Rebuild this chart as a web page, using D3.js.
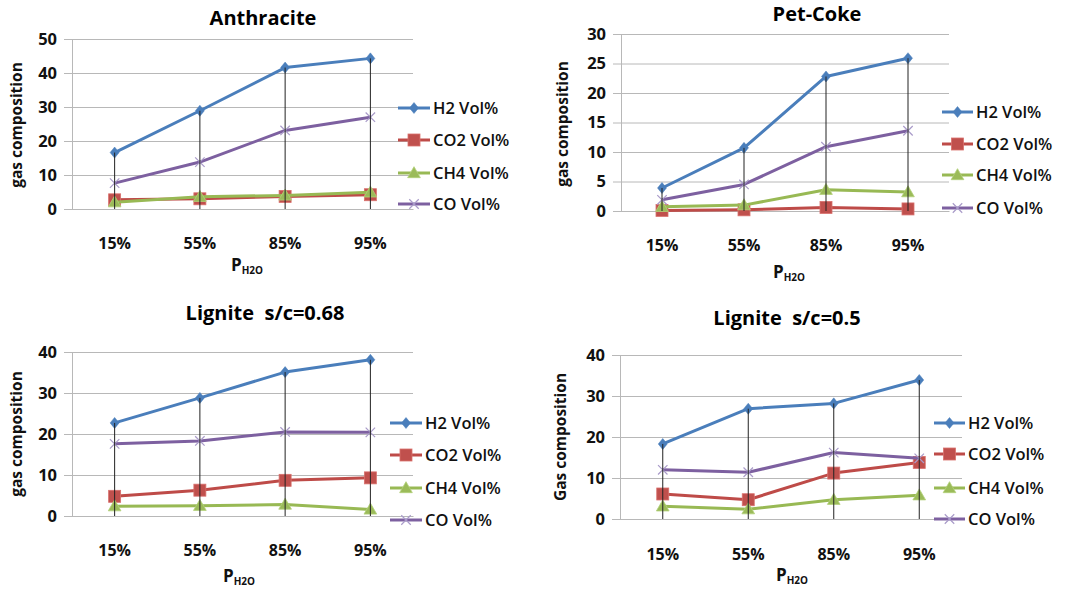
<!DOCTYPE html>
<html>
<head>
<meta charset="utf-8">
<script src="https://cdn.jsdelivr.net/npm/d3@7"></script>
<style>
  html, body { margin: 0; padding: 0; background: #fff; }
  svg { display: block; font-family: "Open Sans", "Noto Sans", sans-serif; }
</style>
</head>
<body>
<svg id="chart" width="1071" height="589"></svg>
<script>
// ---------- data ----------
const categories = ["15%", "55%", "85%", "95%"];
const seriesNames = ["H2 Vol%", "CO2 Vol%", "CH4 Vol%", "CO Vol%"];

const anthraciteH2  = [16.6, 28.9, 41.6, 44.3];
const anthraciteCO2 = [2.7, 3.0, 3.7, 4.2];
const anthraciteCH4 = [2.0, 3.6, 4.0, 4.9];
const anthraciteCO  = [7.6, 13.8, 23.1, 27.0];

const petcokeH2  = [3.9, 10.7, 22.8, 25.9];
const petcokeCO2 = [0.1, 0.2, 0.6, 0.35];
const petcokeCH4 = [0.7, 1.0, 3.6, 3.2];
const petcokeCO  = [1.9, 4.5, 10.9, 13.6];

const lignite068H2  = [22.7, 28.8, 35.1, 38.1];
const lignite068CO2 = [4.8, 6.3, 8.7, 9.3];
const lignite068CH4 = [2.4, 2.5, 2.8, 1.6];
const lignite068CO  = [17.6, 18.3, 20.5, 20.4];

const lignite05H2  = [18.3, 26.9, 28.2, 33.9];
const lignite05CO2 = [6.1, 4.7, 11.2, 13.8];
const lignite05CH4 = [3.1, 2.4, 4.7, 5.8];
const lignite05CO  = [12.0, 11.4, 16.2, 14.8];

const titles = ["Anthracite", "Pet-Coke", "Lignite  s/c=0.68", "Lignite  s/c=0.5"];
const yLabels = ["gas composition", "gas composition", "gas composition", "Gas composition"];
const yMaxes = [50, 30, 40, 40];
const yTickSteps = [10, 5, 10, 10];

// ---------- styles ----------
const colors = ["#4A7EBB", "#BE4B48", "#98B954", "#7D60A0"];
const markerFill = ["#4A7EBB", "#C0504D", "#9BBB59", "#A99BC9"];
const gridColor = "#b8b8b8";

// ---------- layout per panel ----------
const panels = [
  { data: [anthraciteH2, anthraciteCO2, anthraciteCH4, anthraciteCO],
    x0: 72, x1: 413, y0: 209, y1: 39,
    titleX: 263, titleY: 25, tickY: 250, xlabX: 231, xlabY: 271,
    ylabX: 17, ylabY: 125, legX: 398, legW: 32, legY: [108, 140, 173, 204] },
  { data: [petcokeH2, petcokeCO2, petcokeCH4, petcokeCO],
    x0: 621, x1: 949, y0: 211, y1: 34,
    titleX: 817, titleY: 21, tickY: 252, xlabX: 773, xlabY: 278,
    ylabX: 563, ylabY: 124, legX: 942, legW: 31, legY: [112, 144, 175, 208] },
  { data: [lignite068H2, lignite068CO2, lignite068CH4, lignite068CO],
    x0: 72, x1: 413, y0: 516, y1: 352,
    titleX: 265, titleY: 320, tickY: 557, xlabX: 223, xlabY: 582,
    ylabX: 17, ylabY: 434, legX: 390, legW: 32, legY: [423, 455, 488, 520] },
  { data: [lignite05H2, lignite05CO2, lignite05CH4, lignite05CO],
    x0: 620, x1: 962, y0: 519, y1: 355,
    titleX: 787, titleY: 325, tickY: 561, xlabX: 776, xlabY: 581,
    ylabX: 561, ylabY: 437, legX: 934, legW: 31, legY: [423, 454, 488, 519] }
];

const svg = d3.select("#chart");

function drawMarker(g, type, cx, cy, i) {
  if (type === 0) {
    g.append("path").attr("d", d3.symbol(d3.symbolDiamond2, 64)())
      .attr("transform", `translate(${cx},${cy}) scale(0.9,1.1)`)
      .attr("fill", markerFill[i]).attr("stroke", colors[i]).attr("stroke-width", 0.5);
  } else if (type === 1) {
    g.append("rect").attr("x", cx - 6).attr("y", cy - 6).attr("width", 12).attr("height", 12)
      .attr("fill", markerFill[i]).attr("stroke", "#D9706D").attr("stroke-width", 0.8);
  } else if (type === 2) {
    g.append("path").attr("d", d3.symbol(d3.symbolTriangle, 70)())
      .attr("transform", `translate(${cx},${cy + 1})`)
      .attr("fill", markerFill[i]).attr("stroke", "#B3D07A").attr("stroke-width", 0.8);
  } else {
    g.append("path").attr("d", d3.symbol(d3.symbolX, 60)())
      .attr("transform", `translate(${cx},${cy})`)
      .attr("fill", "none").attr("stroke", markerFill[i]).attr("stroke-width", 1.2);
  }
}

panels.forEach((p, pi) => {
  const g = svg.append("g");
  const x = d3.scaleBand().domain(categories).range([p.x0, p.x1]).padding(0);
  const y = d3.scaleLinear().domain([0, yMaxes[pi]]).range([p.y0, p.y1]);
  const cx = c => x(c) + x.bandwidth() / 2;
  const w = p.x1 - p.x0;

  // y axis with gridlines
  const yAxis = d3.axisLeft(y)
    .tickValues(d3.range(0, yMaxes[pi] + 0.001, yTickSteps[pi]))
    .tickSizeInner(-w).tickSizeOuter(0).tickPadding(15);
  const ya = g.append("g").attr("transform", `translate(${p.x0},0)`).call(yAxis);
  ya.select(".domain").attr("stroke", gridColor);
  ya.selectAll(".tick line").attr("x1", -8).attr("stroke", gridColor);
  ya.selectAll(".tick text").attr("font-size", 16.5).attr("font-weight", 700)
    .attr("fill", "#111").attr("font-family", "'Open Sans', sans-serif");

  // x axis
  const xAxis = d3.axisBottom(x).tickSize(0).tickPadding(p.tickY - p.y0 - 12);
  const xa = g.append("g").attr("transform", `translate(0,${p.y0})`).call(xAxis);
  xa.select(".domain").attr("stroke", gridColor);
  xa.selectAll(".tick text").attr("font-size", 16).attr("font-weight", 700)
    .attr("fill", "#111").attr("font-family", "'Open Sans', sans-serif");

  // series lines
  const line = d3.line().x((d, k) => cx(categories[k])).y(d => y(d));
  p.data.forEach((vals, i) => {
    g.append("path").datum(vals).attr("d", line)
      .attr("fill", "none").attr("stroke", colors[i]).attr("stroke-width", 3)
      .attr("stroke-linejoin", "round");
    vals.forEach((v, k) => drawMarker(g, i, cx(categories[k]), y(v), i));
  });

  // drop lines
  categories.forEach((c, k) => {
    const top = d3.max(p.data, s => s[k]);
    g.append("line").attr("x1", cx(c)).attr("x2", cx(c))
      .attr("y1", y(top)).attr("y2", y(0))
      .attr("stroke", "#222").attr("stroke-width", 1);
  });

  // title
  g.append("text").attr("x", p.titleX).attr("y", p.titleY)
    .attr("text-anchor", "middle").attr("font-size", 20).attr("font-weight", 700)
    .attr("fill", "#000").style("white-space", "pre").text(titles[pi]);

  // x label P_H2O
  const xl = g.append("text").attr("x", p.xlabX).attr("y", p.xlabY)
    .attr("font-weight", 700).attr("fill", "#111");
  xl.append("tspan").attr("font-size", 17).text("P");
  xl.append("tspan").attr("font-size", 10).attr("dy", 3).text("H2O");

  // y label
  g.append("text").attr("transform", `translate(${p.ylabX},${p.ylabY}) rotate(-90)`)
    .attr("text-anchor", "middle").attr("dy", "0.35em")
    .attr("font-size", 15.5).attr("font-weight", 700).attr("fill", "#111")
    .text(yLabels[pi]);

  // legend
  seriesNames.forEach((name, i) => {
    const ly = p.legY[i];
    g.append("line").attr("x1", p.legX).attr("x2", p.legX + p.legW)
      .attr("y1", ly).attr("y2", ly).attr("stroke", colors[i]).attr("stroke-width", 3);
    drawMarker(g, i, p.legX + p.legW / 2, ly, i);
    g.append("text").attr("x", p.legX + p.legW + 3).attr("y", ly).attr("dy", "0.36em")
      .attr("font-size", 16.5).attr("font-weight", 600).attr("fill", "#111").text(name);
  });
});
</script>
</body>
</html>
